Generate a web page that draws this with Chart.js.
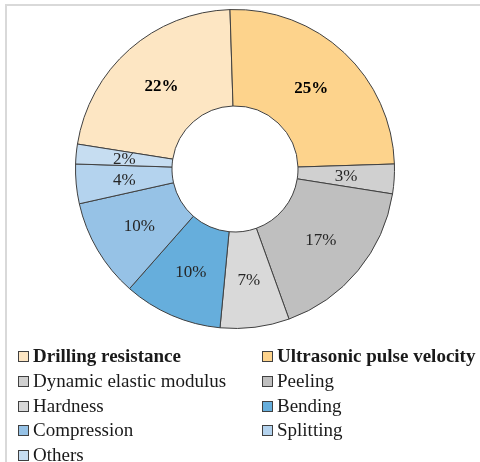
<!DOCTYPE html>
<html>
<head>
<meta charset="utf-8">
<script src="https://cdn.jsdelivr.net/npm/chart.js@4/dist/chart.umd.min.js"></script>
<style>
  html, body { margin: 0; padding: 0; background: #fff; overflow: hidden; }
  #wrap { position: relative; width: 480px; height: 462px; overflow: hidden; }
  #frame {
    position: absolute; left: 5px; top: 4px; width: 520px; height: 520px;
    border: 2px solid #d9d9d9; box-sizing: border-box;
  }
  #pie { position: absolute; left: 0; top: 0; }
  #legend {
    position: absolute; left: 18px; top: 344px; width: 470px;
    display: grid; grid-template-columns: 244px 226px; row-gap: 0;
    font-family: 'Liberation Serif', 'Times New Roman', serif;
    font-size: 19px; color: #1a1a1a;
  }
  .item { height: 24.8px; line-height: 24.8px; white-space: nowrap; }
  .item.bold { font-weight: bold; }
  .box {
    display: inline-block; width: 9px; height: 9px; border: 1px solid #404040;
    margin-right: 4px; vertical-align: 0px;
  }
</style>
</head>
<body>
<div id="wrap">
  <div id="frame"></div>
  <canvas id="pie" width="480" height="462"></canvas>
  <div id="legend"></div>
</div>
<script>
const categories = [
  'Drilling resistance', 'Ultrasonic pulse velocity', 'Dynamic elastic modulus',
  'Peeling', 'Hardness', 'Bending', 'Compression', 'Splitting', 'Others'
];
const shares = [22, 25, 3, 17, 7, 10, 10, 4, 2];
const boldItems = ['Drilling resistance', 'Ultrasonic pulse velocity'];
const sliceColors = [
  '#fde6c3', '#fdd38c', '#d0d0d0', '#bfbfbf', '#d9d9d9',
  '#66aedc', '#96c2e6', '#b4d3ee', '#c6ddf1'
];

const serif = "'Liberation Serif', 'Times New Roman', serif";

// percent labels in the middle of each ring segment
const sliceLabels = {
  id: 'sliceLabels',
  afterDatasetsDraw(chart) {
    const ctx = chart.ctx;
    const meta = chart.getDatasetMeta(0);
    ctx.save();
    ctx.textAlign = 'center';
    ctx.textBaseline = 'middle';
    meta.data.forEach((arc, i) => {
      const p = arc.getCenterPoint();
      const bold = boldItems.includes(categories[i]);
      ctx.font = (bold ? 'bold ' : '') + '17px ' + serif;
      ctx.fillStyle = bold ? '#000' : '#262626';
      ctx.fillText(shares[i] + '%', p.x, p.y + 1);
    });
    ctx.restore();
  }
};

new Chart(document.getElementById('pie'), {
  type: 'doughnut',
  data: {
    labels: categories,
    datasets: [{
      data: shares,
      backgroundColor: sliceColors,
      borderColor: '#404040',
      borderWidth: 1,
      borderAlign: 'center'
    }]
  },
  options: {
    responsive: false,
    animation: false,
    rotation: -81,
    cutout: '39.5%',
    layout: { padding: { left: 75, right: 85, top: 9, bottom: 133 } },
    plugins: { legend: { display: false }, tooltip: { enabled: false } }
  },
  plugins: [sliceLabels]
});

document.getElementById('legend').innerHTML = categories.map((c, i) =>
  `<div class="item${boldItems.includes(c) ? ' bold' : ''}"><span class="box" style="background:${sliceColors[i]}"></span>${c}</div>`
).join('');
</script>
</body>
</html>
